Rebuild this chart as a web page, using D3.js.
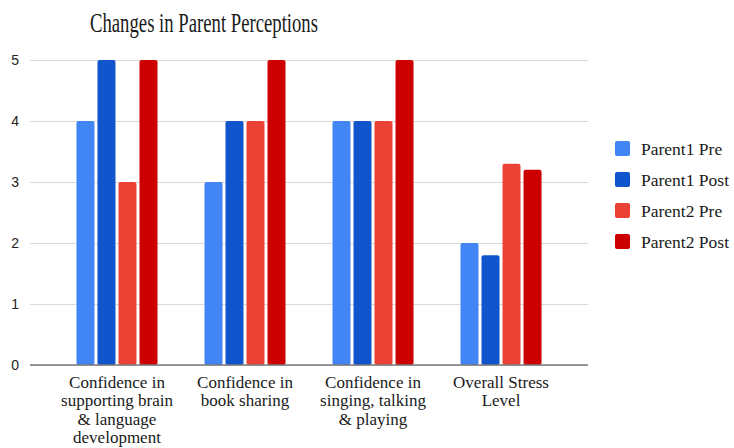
<!DOCTYPE html>
<html>
<head>
<meta charset="utf-8">
<script src="https://cdn.jsdelivr.net/npm/d3@7"></script>
<style>
  body { margin: 0; background: #fff; }
  .serif { font-family: "Liberation Serif", "Times New Roman", serif; fill: #1a1a1a; }
  .tick text { font-family: "Liberation Sans", Arial, sans-serif; font-size: 14px; fill: #222; }
</style>
</head>
<body>
<div id="chart"></div>
<script>
var categories = [
  ["Confidence in", "supporting brain", "& language", "development"],
  ["Confidence in", "book sharing"],
  ["Confidence in", "singing, talking", "& playing"],
  ["Overall Stress", "Level"]
];
var seriesNames = ["Parent1 Pre", "Parent1 Post", "Parent2 Pre", "Parent2 Post"];
var parent1Pre = [4, 3, 4, 2];
var parent1Post = [5, 4, 4, 1.8];
var parent2Pre = [3, 4, 4, 3.3];
var parent2Post = [5, 5, 5, 3.2];
var colors = ["#4285f4", "#1155cc", "#ea4335", "#cc0000"];
var yTicks = [0, 1, 2, 3, 4, 5];

var seriesValues = [parent1Pre, parent1Post, parent2Pre, parent2Post];

var width = 734, height = 448;
var plotLeft = 30, plotRight = 588, plotTop = 60, plotBottom = 365;

var svg = d3.select('#chart').append('svg')
  .attr('width', width)
  .attr('height', height);

var x0 = d3.scaleBand()
  .domain(d3.range(categories.length))
  .range([plotLeft, plotRight])
  .paddingInner(0.367)
  .paddingOuter(0.363);

var x1 = d3.scaleBand()
  .domain(d3.range(seriesNames.length))
  .range([0, x0.bandwidth()])
  .paddingInner(0.143);

var y = d3.scaleLinear()
  .domain([0, 5])
  .range([plotBottom, plotTop]);

// gridlines + labels
var yAxis = d3.axisLeft(y)
  .tickValues(yTicks)
  .tickSize(-(plotRight - plotLeft))
  .tickPadding(11)
  .tickFormat(d3.format('d'));

var gy = svg.append('g')
  .attr('transform', 'translate(' + plotLeft + ',0)')
  .call(yAxis);
gy.select('.domain').remove();
gy.selectAll('.tick line').attr('stroke', '#d9d9d9').attr('stroke-width', 1.2);

// bars
var groups = svg.selectAll('g.group')
  .data(categories).enter()
  .append('g')
  .attr('class', 'group')
  .attr('transform', function(d, i) { return 'translate(' + x0(i) + ',0)'; });

groups.selectAll('rect')
  .data(function(d, i) { return seriesValues.map(function(s, j) { return { s: j, v: s[i] }; }); })
  .enter().append('rect')
  .attr('x', function(d) { return x1(d.s); })
  .attr('width', x1.bandwidth())
  .attr('y', function(d) { return y(d.v); })
  .attr('height', function(d) { return plotBottom - y(d.v); })
  .attr('rx', 2)
  .attr('fill', function(d) { return colors[d.s]; });

// baseline
svg.append('line')
  .attr('x1', plotLeft).attr('x2', plotRight)
  .attr('y1', plotBottom).attr('y2', plotBottom)
  .attr('stroke', '#777').attr('stroke-width', 1.5);

// category labels
var labels = svg.selectAll('text.cat')
  .data(categories).enter()
  .append('text')
  .attr('class', 'cat serif')
  .attr('text-anchor', 'middle')
  .attr('font-size', 17)
  .attr('x', function(d, i) { return x0(i) + x0.bandwidth() / 2; })
  .attr('y', 388);
labels.selectAll('tspan')
  .data(function(d) { return d; })
  .enter().append('tspan')
  .attr('x', function() { return d3.select(this.parentNode).attr('x'); })
  .attr('dy', function(d, i) { return i === 0 ? 0 : 18.3; })
  .text(function(d) { return d; });

// title
svg.append('text')
  .attr('class', 'serif')
  .attr('x', 90)
  .attr('y', 32)
  .attr('font-size', 28)
  .attr('textLength', 228)
  .attr('lengthAdjust', 'spacingAndGlyphs')
  .text('Changes in Parent Perceptions');

// legend
var legend = svg.selectAll('g.legend')
  .data(seriesNames).enter()
  .append('g')
  .attr('class', 'legend')
  .attr('transform', function(d, i) { return 'translate(615,' + (141 + i * 31) + ')'; });
legend.append('rect')
  .attr('width', 15).attr('height', 15).attr('rx', 2)
  .attr('fill', function(d, i) { return colors[i]; });
legend.append('text')
  .attr('class', 'serif')
  .attr('x', 26)
  .attr('y', 14)
  .attr('font-size', 17.5)
  .text(function(d) { return d; });
</script>
</body>
</html>
